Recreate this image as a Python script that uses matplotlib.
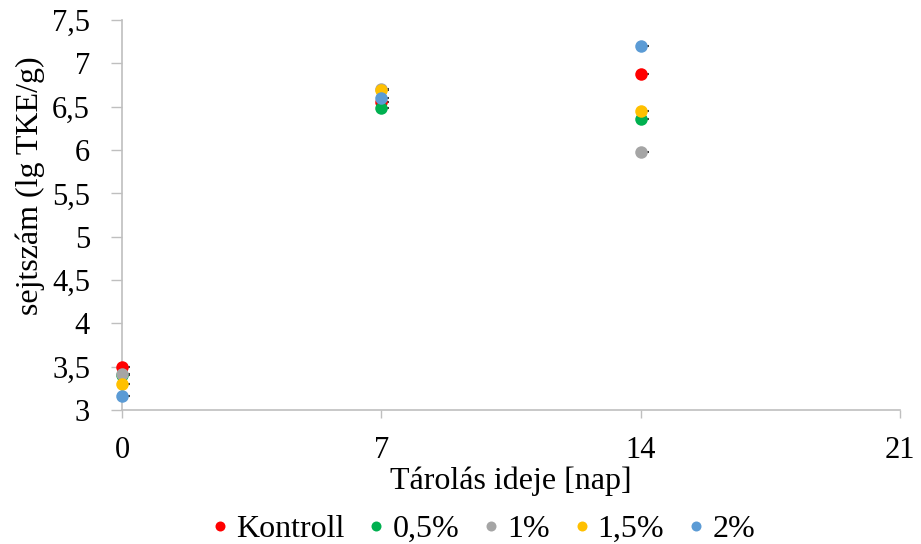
import matplotlib
matplotlib.use("Agg")
import matplotlib.pyplot as plt
from matplotlib.ticker import FuncFormatter

plt.rcParams['font.family'] = ['Liberation Serif', 'DejaVu Serif']

days = [0, 7, 14]
series_names = ["Kontroll", "0,5%", "1%", "1,5%", "2%"]
colors = ["#FF0000", "#00B050", "#A5A5A5", "#FFC000", "#5B9BD5"]
kontroll = [3.50, 6.55, 6.88]
p05 = [3.40, 6.48, 6.36]
p1 = [3.42, 6.70, 5.98]
p15 = [3.30, 6.69, 6.45]
p2 = [3.16, 6.60, 7.20]
values = [kontroll, p05, p1, p15, p2]

fig = plt.figure(figsize=(9.21, 5.44), dpi=100)
ax = fig.add_axes([122/921, 1-410/544, (900-122)/921, (410-20)/544])

handles = []
for name, col, vals in zip(series_names, colors, values):
    ax.errorbar(days, vals, xerr=[[0]*3, [0.22]*3], fmt='none', ecolor='#404040',
                elinewidth=1.5, capsize=0, zorder=2, clip_on=False)
    h, = ax.plot(days, vals, 'o', color=col, markersize=9, label=name,
                 zorder=3, clip_on=False, markeredgewidth=0)
    handles.append(h)

ax.set_xlim(0, 21)
ax.set_ylim(3, 7.5)
ax.set_xticks([0, 7, 14, 21])
ax.set_yticks([3 + 0.5*i for i in range(10)])
fmt = FuncFormatter(lambda v, p: (f"{v:g}").replace('.', ','))
ax.yaxis.set_major_formatter(fmt)
ax.tick_params(axis='both', labelsize=22, colors='black')
ax.tick_params(axis='y', length=8, width=1, color='#BFBFBF', pad=15)
ax.tick_params(axis='x', length=6, width=1, direction='out', color='#BFBFBF', pad=13)
for s in ['top', 'right']:
    ax.spines[s].set_visible(False)
for s in ['left', 'bottom']:
    ax.spines[s].set_color('#BFBFBF')
    ax.spines[s].set_linewidth(1.2)

ax.set_xlabel("Tárolás ideje [nap]", fontsize=23, labelpad=1)
ax.set_ylabel("sejtszám (lg TKE/g)", fontsize=23)
ax.yaxis.set_label_coords(-0.099, 0.574)

leg = fig.legend(handles, series_names, loc='center', bbox_to_anchor=(0.525, 1-529/544), ncol=5,
                 frameon=False, fontsize=23, markerscale=0.8, handlelength=0.5,
                 handletextpad=0.25, columnspacing=0.75, borderpad=0)

fig.savefig("out.png", dpi=100)
